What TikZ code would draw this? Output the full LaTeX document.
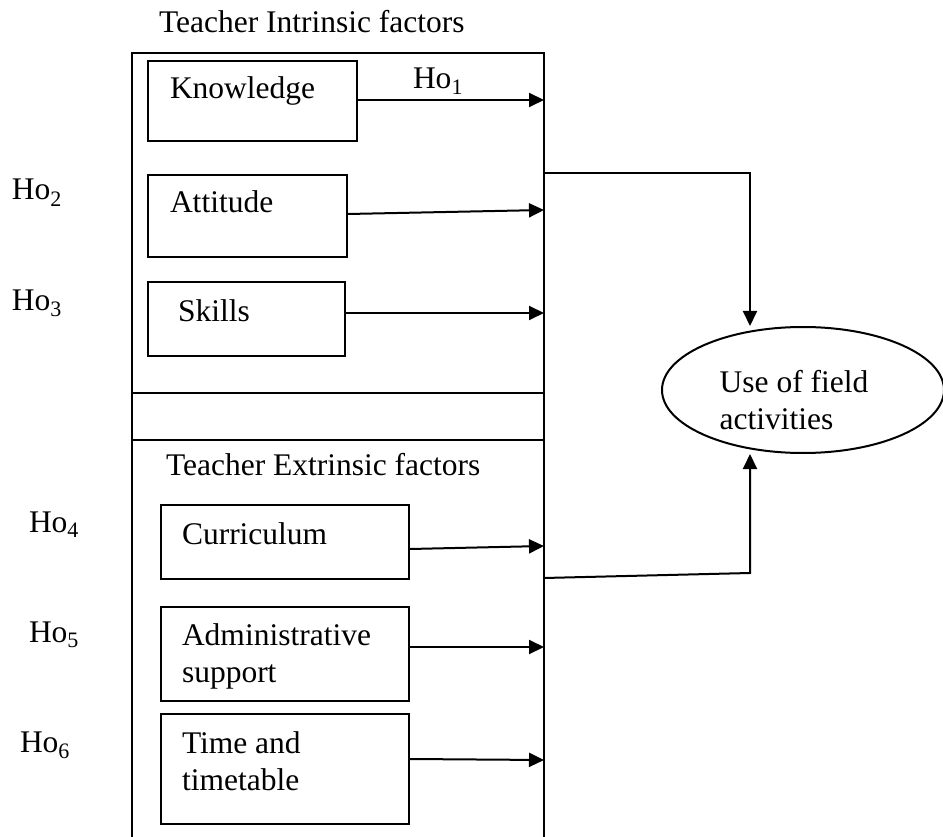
\documentclass[tikz,border=0pt]{standalone}
\usepackage{fontspec}
\setmainfont{Liberation Serif}
\usetikzlibrary{arrows.meta,shapes.geometric}
\begin{document}
\begin{tikzpicture}[x=1pt,y=-1pt,
  line width=2pt,
  every node/.style={font=\fontsize{31.5}{37}\selectfont},
  factorbox/.style={draw,rectangle,inner sep=0pt,anchor=north west},
  txt/.style={anchor=base west,inner sep=0pt,align=left},
  arr/.style={-{Triangle[length=15pt,width=14pt]}}]
\useasboundingbox (0,0) rectangle (943,837);

% outer frame of the two factor groups (open at the bottom)
\draw (132,837) -- (132,53) -- (544,53) -- (544,837);
\draw (132,393) -- (544,393);
\draw (132,440) -- (544,440);

% group titles
\node[txt] (tin) at (158,33) {Teacher Intrinsic factors};
\node[txt] (tex) at (165,475) {Teacher Extrinsic factors};

% intrinsic factor boxes
\node[factorbox,minimum width=209pt,minimum height=80pt] (know) at (147,60) {};
\node[txt] (knowt) at (169,99) {Knowledge};
\node[factorbox,minimum width=199pt,minimum height=82pt] (att) at (147,174) {};
\node[txt] (attt) at (169,213) {Attitude};
\node[factorbox,minimum width=197pt,minimum height=74pt] (ski) at (147,281) {};
\node[txt] (skit) at (177,322) {Skills};

% extrinsic factor boxes (two-line labels: base is the last line)
\node[factorbox,minimum width=248pt,minimum height=74pt] (cur) at (160,504) {};
\node[txt] (curt) at (181,544) {Curriculum};
\node[factorbox,minimum width=248pt,minimum height=94pt] (adm) at (160,606) {};
\node[txt] (admt) at (181,682) {Administrative\\support};
\node[factorbox,minimum width=248pt,minimum height=110pt] (tim) at (160,713) {};
\node[txt] (timt) at (181,790) {Time and\\timetable};

% hypothesis labels
\node[txt] (h1) at (412,89) {Ho\textsubscript{1}};
\node[txt] (h2) at (11,200) {Ho\textsubscript{2}};
\node[txt] (h3) at (11,310) {Ho\textsubscript{3}};
\node[txt] (h4) at (28,532) {Ho\textsubscript{4}};
\node[txt] (h5) at (28,642) {Ho\textsubscript{5}};
\node[txt] (h6) at (19,752) {Ho\textsubscript{6}};

% arrow tips on the frame
\coordinate (t1) at (544,100);
\coordinate (t2) at (544,210);
\coordinate (t3) at (544,313);
\coordinate (t4) at (544,546);
\coordinate (t5) at (544,647);
\coordinate (t6) at (544,760);

\draw[arr] (know.east |- t1) -- (t1);
\draw[arr] ([yshift=2pt]att.east) -- (t2);
\draw[arr] (ski.east |- t3) -- (t3);
\draw[arr] ([yshift=-7pt]cur.east) -- (t4);
\draw[arr] (adm.east |- t5) -- (t5);
\draw[arr] ([yshift=10pt]tim.east) -- (t6);

% outcome (struts set the text a little left of and below the centre)
\node[draw,ellipse,minimum width=282pt,minimum height=126pt,inner sep=0pt,
      align=left] (use) at (803,390)
      {\rule{0pt}{42pt}Use of field\rule{18pt}{0pt}\\activities};

% links from the two groups to the outcome
\coordinate (jt) at (544,173);
\coordinate (jb) at (544,578);
\draw[arr] (jt) -| ([xshift=-53pt]use.north);
\draw[arr] (jb) -- (750,573) -- ([xshift=-53pt]use.south);
\end{tikzpicture}
\end{document}
